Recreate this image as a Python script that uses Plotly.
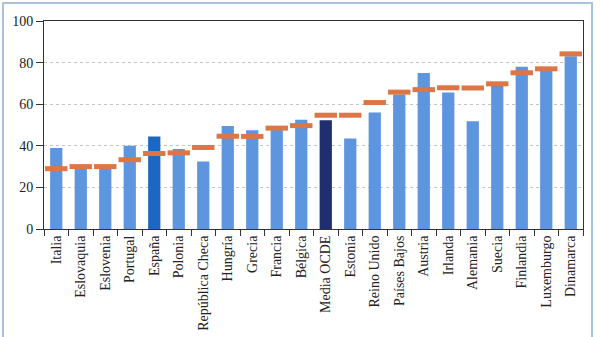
import plotly.graph_objects as go

paises = ["Italia", "Eslovaquia", "Eslovenia", "Portugal", "España", "Polonia",
          "República Checa", "Hungría", "Grecia", "Francia", "Bélgica", "Media OCDE",
          "Estonia", "Reino Unido", "Países Bajos", "Austria", "Irlanda", "Alemania",
          "Suecia", "Finlandia", "Luxemburgo", "Dinamarca"]
barras = [39, 29, 29, 40, 44.5, 38.5, 32.5, 49.5, 47.5, 48, 52.5, 52.3,
          43.5, 56, 64.7, 75, 65.6, 51.8, 68.7, 78, 76, 83]
marcas = [29, 30, 30, 33.3, 36.3, 36.6, 39.2, 44.6, 44.5, 48.5, 49.7, 54.7,
          54.7, 60.8, 65.8, 67, 67.9, 67.8, 69.8, 75.1, 77, 84.2]
yticks = [0, 20, 40, 60, 80, 100]

bar_colors = []
for p in paises:
    if p == "España":
        bar_colors.append("#1c67c4")
    elif p == "Media OCDE":
        bar_colors.append("#1f2e6c")
    else:
        bar_colors.append("#5d95de")

fig = go.Figure()
fig.add_trace(go.Bar(x=paises, y=barras, marker=dict(color=bar_colors, line=dict(width=0)),
                     width=0.5, showlegend=False, hoverinfo="x+y"))
fig.add_trace(go.Scatter(x=paises, y=marcas, mode="markers",
                         marker=dict(symbol="line-ew", size=16,
                                     line=dict(color="#dc7646", width=5)),
                         showlegend=False))

font_family = "Liberation Serif, serif"
fig.update_layout(
    width=600, height=337,
    margin=dict(l=44, r=17, t=21, b=108),
    paper_bgcolor="white", plot_bgcolor="white",
    font=dict(family=font_family, size=14, color="#222"),
    bargap=0.5,
    xaxis=dict(showline=True, linecolor="#333", linewidth=1, mirror=True,
               ticks="outside", tickson="boundaries", ticklen=6, tickcolor="#333",
               tickangle=-90, tickfont=dict(size=14, family=font_family),
               showgrid=False, range=[-0.5, 21.5], automargin=False),
    yaxis=dict(range=[0, 100], tickvals=yticks, showline=True, linecolor="#333",
               linewidth=1, mirror=True, ticks="outside", ticklen=7, tickcolor="#333",
               tickfont=dict(size=14, family=font_family),
               showgrid=True, gridcolor="#c4c4c4", griddash="dot", gridwidth=1,
               zeroline=False, automargin=False),
    shapes=[dict(type="rect", xref="paper", yref="paper",
                 x0=(3 - 44) / 539, x1=(592 - 44) / 539,
                 y0=-0.6, y1=(229 - 3) / 208,
                 line=dict(color="#a9c2dc", width=2), fillcolor="rgba(0,0,0,0)",
                 layer="below")],
)

fig.write_html("out.html")
